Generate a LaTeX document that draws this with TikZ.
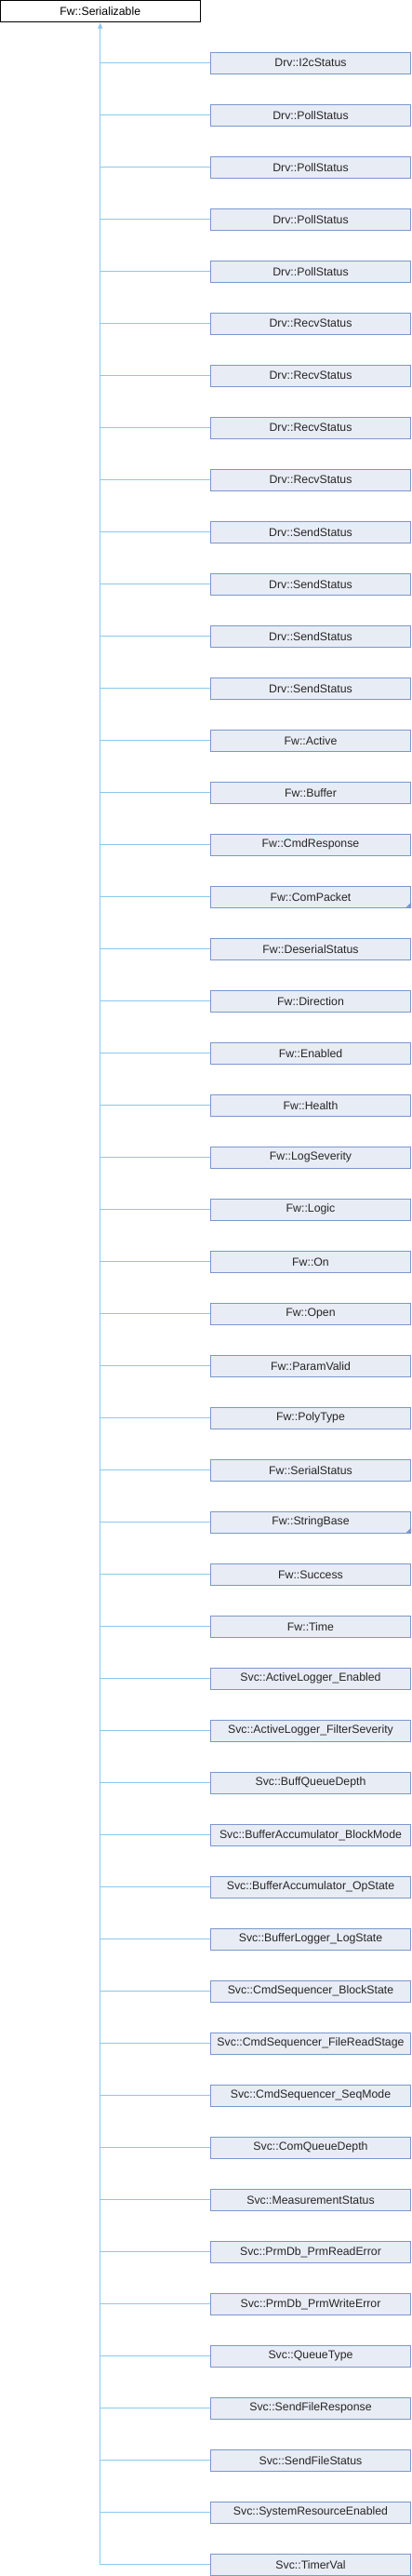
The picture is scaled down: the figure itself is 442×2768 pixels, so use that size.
\documentclass[tikz,border=0pt]{standalone}
\usepackage{fontspec}
\setmainfont{Liberation Sans}
\usetikzlibrary{arrows.meta, positioning}
\definecolor{boxfill}{HTML}{E8ECF5}
\definecolor{boxline}{HTML}{7B98CC}
\definecolor{inherit}{HTML}{8CC8EC}

\begin{document}
\begin{tikzpicture}[x=1pt, y=-1pt, >=Stealth,
  base/.style={draw=black, fill=white, line width=1pt, minimum width=215pt,
    minimum height=22.5pt, inner sep=0pt, font=\fontsize{12.3}{14}\selectfont},
  derived/.style={base, draw=boxline, fill=boxfill, text=black!85},
  link/.style={draw=inherit, line width=1pt},
  corner/.style={fill=boxline}
]
  \useasboundingbox (0,0) rectangle (442,2768);
  \node[base] (ser) at (107.75,11.75) {Fw::Serializable};
  % derived classes, one row every 56px
  \foreach \name [count=\i] in {Drv::I2cStatus, Drv::PollStatus, Drv::PollStatus,
      Drv::PollStatus, Drv::PollStatus, Drv::RecvStatus, Drv::RecvStatus,
      Drv::RecvStatus, Drv::RecvStatus, Drv::SendStatus, Drv::SendStatus,
      Drv::SendStatus, Drv::SendStatus, Fw::Active, Fw::Buffer, Fw::CmdResponse,
      Fw::ComPacket, Fw::DeserialStatus, Fw::Direction, Fw::Enabled, Fw::Health,
      Fw::LogSeverity, Fw::Logic, Fw::On, Fw::Open, Fw::ParamValid, Fw::PolyType,
      Fw::SerialStatus, Fw::StringBase, Fw::Success, Fw::Time,
      Svc::ActiveLogger\_Enabled, Svc::ActiveLogger\_FilterSeverity,
      Svc::BuffQueueDepth, Svc::BufferAccumulator\_BlockMode,
      Svc::BufferAccumulator\_OpState, Svc::BufferLogger\_LogState,
      Svc::CmdSequencer\_BlockState, Svc::CmdSequencer\_FileReadStage,
      Svc::CmdSequencer\_SeqMode, Svc::ComQueueDepth, Svc::MeasurementStatus,
      Svc::PrmDb\_PrmReadError, Svc::PrmDb\_PrmWriteError, Svc::QueueType,
      Svc::SendFileResponse, Svc::SendFileStatus, Svc::SystemResourceEnabled,
      Svc::TimerVal}
  {
    \node[derived] (c\i) at (334,11.75+56*\i) {\name};
    \draw[link] (c\i.west) -- (c\i.west -| ser.south);
  }
  % trunk with inheritance tip
  \draw[link, {Triangle[width=5pt,length=6pt,fill=inherit]}-, shorten <=1pt]
    (ser.south) -- (ser.south |- c49.west);
  % template marks
  \fill[corner] (c17.south east) -- ++(-6,0) -- ++(6,-6) -- cycle;
  \fill[corner] (c29.south east) -- ++(-6,0) -- ++(6,-6) -- cycle;
\end{tikzpicture}
\end{document}
